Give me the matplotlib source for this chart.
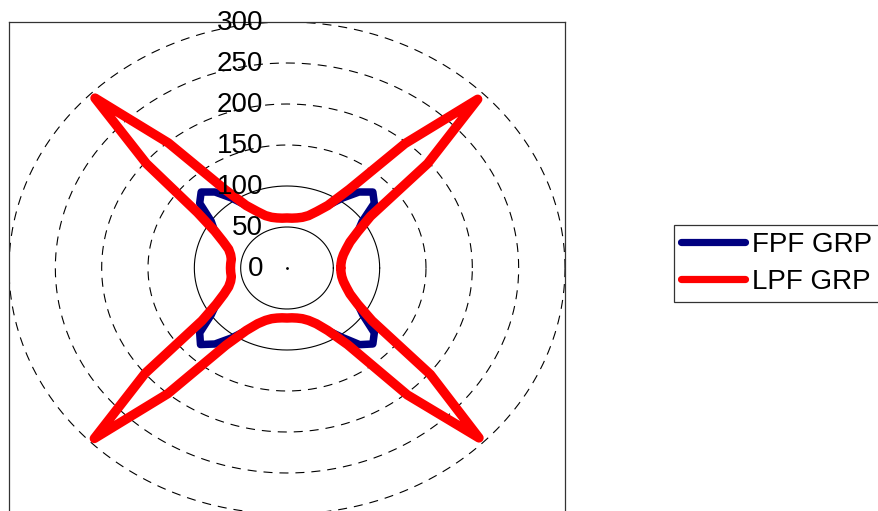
import numpy as np
import matplotlib
matplotlib.use("Agg")
import matplotlib.pyplot as plt
from matplotlib.lines import Line2D

plt.rcParams['font.family'] = ['Liberation Sans', 'DejaVu Sans']
plt.rcParams['lines.scale_dashes'] = False

# ---- data (angle in degrees, radius) ----
angles_deg = list(range(0, 361, 5))

lpf_grp = [58, 58.5, 60, 63, 68, 75, 88, 110, 198, 291, 198, 117, 88, 76, 68, 64, 62, 61,
           61, 61, 62, 64, 68, 76, 88, 117, 199, 293, 198, 118, 90, 76, 67, 63, 61, 61,
           61, 61, 61, 63, 67, 75, 88, 112, 200, 294, 200, 115, 88, 75, 68, 64, 62, 61,
           61, 61, 62, 64, 68, 75, 88, 114, 202, 293, 202, 112, 88, 75, 68, 63, 60, 58.5,
           58]

fpf_grp = [58, 58.5, 60, 63, 68, 75, 88, 99, 123, 131, 121, 104, 88, 76, 68, 64, 62, 61,
           61, 61, 62, 64, 68, 76, 88, 104, 121, 131, 123, 100, 90, 76, 67, 63, 61, 61,
           61, 61, 61, 63, 67, 75, 88, 100, 123, 132, 121, 104, 88, 75, 68, 64, 62, 61,
           61, 61, 62, 64, 68, 75, 88, 103, 122, 131, 123, 100, 88, 75, 68, 63, 60, 58.5,
           58]

ring_values = [0, 50, 100, 150, 200, 250, 300]
series_names = ["FPF GRP", "LPF GRP"]
series_colors = ["#000080", "#FF0000"]

# ---- figure ----
fig = plt.figure(figsize=(8.79, 5.11), dpi=100)
ax = fig.add_axes([9/879, 1 - 514/511, 556/879, 492/511])
ax.set_xlim(-300, 300)
ax.set_ylim(-300, 300)
ax.set_xticks([])
ax.set_yticks([])
for s in ax.spines.values():
    s.set_color('#333333')
    s.set_linewidth(0.9)

# rings
t = np.linspace(0, 2*np.pi, 721)
for r in ring_values[1:]:
    if r <= 100:
        ax.plot(r*np.cos(t), r*np.sin(t), color='black', lw=0.8, zorder=1)
    else:
        ax.plot(r*np.cos(t), r*np.sin(t), color='black', lw=0.8,
                dashes=(6.5, 5), zorder=1)
ax.plot([0], [0], 'k.', ms=2, zorder=1)

# series
th = np.radians(angles_deg)
for vals, col, lw in [(fpf_grp, series_colors[0], 5.4), (lpf_grp, series_colors[1], 6.8)]:
    v = np.array(vals, dtype=float)
    ax.plot(v*np.cos(th), v*np.sin(th), color=col, lw=lw,
            solid_joinstyle='round', solid_capstyle='round', zorder=3)

# ring labels
for r in ring_values:
    ax.text(-26, r - 1.5, str(r), ha='right', va='center', fontsize=20,
            color='black', zorder=6)

# legend
handles = [Line2D([], [], color=c, lw=5.2, solid_capstyle='round') for c in series_colors]
leg = fig.legend(handles, series_names, loc='upper left',
                 bbox_to_anchor=(674/879, 1 - 225/511), borderaxespad=0,
                 fontsize=20, handlelength=2.3, handletextpad=0.25,
                 labelspacing=0.4, borderpad=0.25, fancybox=False,
                 framealpha=1, edgecolor='#333333')
leg.get_frame().set_linewidth(0.9)

fig.savefig("out.png", dpi=100)
